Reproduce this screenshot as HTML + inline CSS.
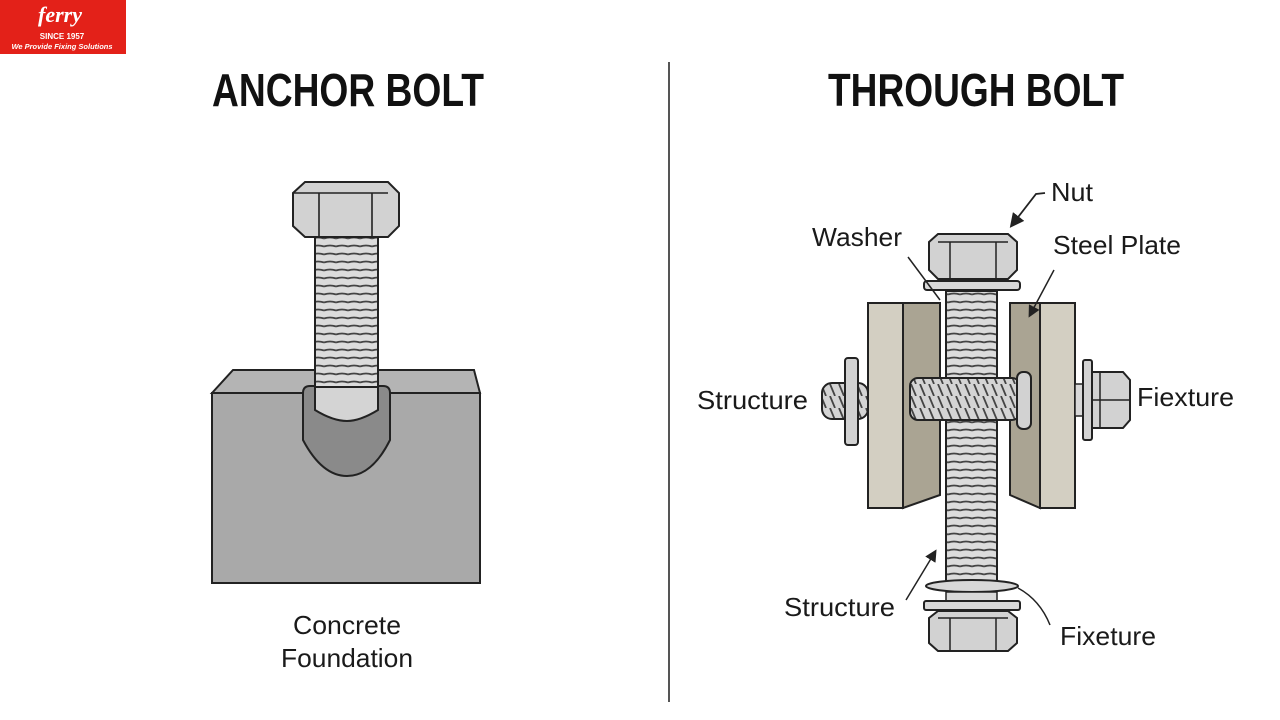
<!DOCTYPE html>
<html><head><meta charset="utf-8"><style>
html,body{margin:0;padding:0;background:#fff}
svg{display:block}
text{font-family:"Liberation Sans",sans-serif;fill:#1a1a1a}
</style></head><body>
<svg width="1280" height="720" viewBox="0 0 1280 720" xmlns="http://www.w3.org/2000/svg">
<defs>
<pattern id="thr" width="12" height="8" patternUnits="userSpaceOnUse">
<rect width="12" height="8" fill="#dcdcdc"/><path d="M0 6.5 Q6 4.5 12 6.5" stroke="#444" stroke-width="1.8" fill="none"/>
</pattern>
<pattern id="thrh" width="9" height="12" patternUnits="userSpaceOnUse">
<rect width="9" height="12" fill="#d4d4d4"/><path d="M2 0 L7 12" stroke="#444" stroke-width="1.8"/>
</pattern>
<marker id="ar" markerWidth="8" markerHeight="8" refX="6" refY="4" orient="auto"><path d="M0 0 L8 4 L0 8 z" fill="#222"/></marker>
</defs>
<!-- logo -->
<rect x="0" y="0" width="126" height="54" fill="#e32119"/>
<text x="60" y="22" font-style="italic" font-weight="bold" font-size="22" style="fill:#fff;font-family:'Liberation Serif',serif" text-anchor="middle">ferry</text>
<text x="62" y="39" font-size="8" font-weight="bold" style="fill:#fff" text-anchor="middle">SINCE 1957</text>
<text x="62" y="49" font-size="7.5" font-weight="bold" font-style="italic" style="fill:#fff" text-anchor="middle">We Provide Fixing Solutions</text>
<!-- titles -->
<text x="212" y="106" font-size="46" font-weight="bold" textLength="272" lengthAdjust="spacingAndGlyphs" style="fill:#111">ANCHOR BOLT</text>
<text x="828" y="106" font-size="46" font-weight="bold" textLength="296" lengthAdjust="spacingAndGlyphs" style="fill:#111">THROUGH BOLT</text>
<line x1="669" y1="62" x2="669" y2="702" stroke="#555" stroke-width="2"/>
<!-- anchor block -->
<polygon points="212,393 233,370 474,370 480,393" fill="#b4b4b4" stroke="#222" stroke-width="2"/>
<rect x="212" y="393" width="268" height="190" fill="#a9a9a9" stroke="#222" stroke-width="2"/>
<path d="M303 393 Q303 386 310 386 L383 386 Q390 386 390 393 L390 440 Q372 476 347 476 Q322 476 303 440 Z" fill="#8a8a8a" stroke="#222" stroke-width="2"/>
<rect x="315" y="237" width="63" height="150" fill="url(#thr)" stroke="#222" stroke-width="2"/>
<path d="M315 387 L378 387 L378 410 Q360 421 347 421 Q333 421 315 410 Z" fill="#d4d4d4" stroke="#222" stroke-width="2"/>
<path d="M293 193 L305 182 L388 182 L399 193 L399 226 L388 237 L305 237 L293 226 Z" fill="#d2d2d2" stroke="#222" stroke-width="2"/>
<path d="M305 193 L388 193 M319 193 L319 237 M372 193 L372 237 M293 193 L305 193" stroke="#222" stroke-width="1.6" fill="none"/>
<text x="347" y="634" font-size="26" text-anchor="middle" textLength="108" lengthAdjust="spacingAndGlyphs">Concrete</text>
<text x="347" y="667" font-size="26" text-anchor="middle" textLength="132" lengthAdjust="spacingAndGlyphs">Foundation</text>
<!-- through bolt plates -->
<rect x="868" y="303" width="35" height="205" fill="#d3cfc2" stroke="#222" stroke-width="2"/>
<polygon points="903,303 940,303 940,495 903,508" fill="#aaa493" stroke="#222" stroke-width="2"/>
<polygon points="1010,303 1040,303 1040,508 1010,495" fill="#aaa493" stroke="#222" stroke-width="2"/>
<rect x="1040" y="303" width="35" height="205" fill="#d3cfc2" stroke="#222" stroke-width="2"/>
<!-- vertical shank -->
<rect x="946" y="291" width="51" height="292" fill="url(#thr)" stroke="#222" stroke-width="2"/>
<!-- horizontal bolt -->
<rect x="822" y="383" width="46" height="36" rx="10" fill="url(#thrh)" stroke="#222" stroke-width="2"/>
<rect x="845" y="358" width="13" height="87" rx="3" fill="#d2d2d2" stroke="#222" stroke-width="2"/>
<rect x="910" y="378" width="110" height="42" rx="8" fill="url(#thrh)" stroke="#222" stroke-width="2"/>
<rect x="1017" y="372" width="14" height="57" rx="6" fill="#d2d2d2" stroke="#222" stroke-width="2"/>
<rect x="1075" y="384" width="12" height="32" fill="#d8d8d8" stroke="#222" stroke-width="1.5"/>
<rect x="1083" y="360" width="9" height="80" rx="2" fill="#d2d2d2" stroke="#222" stroke-width="2"/>
<path d="M1092 372 L1123 372 L1130 380 L1130 420 L1123 428 L1092 428 Z" fill="#d2d2d2" stroke="#222" stroke-width="2"/>
<path d="M1092 400 L1130 400 M1100 372 L1100 428" stroke="#222" stroke-width="1.5"/>
<!-- top nut & washer -->
<path d="M929 242 L938 234 L1008 234 L1017 242 L1017 270 L1008 279 L938 279 L929 270 Z" fill="#d2d2d2" stroke="#222" stroke-width="2"/>
<path d="M938 242 L1008 242 M950 242 L950 279 M996 242 L996 279" stroke="#222" stroke-width="1.5" fill="none"/>
<rect x="924" y="281" width="96" height="9" rx="3" fill="#d8d8d8" stroke="#222" stroke-width="2"/>
<!-- bottom washers & nut -->
<ellipse cx="972" cy="586" rx="46" ry="6" fill="#d8d8d8" stroke="#222" stroke-width="2"/>
<rect x="946" y="592" width="51" height="10" fill="#d8d8d8" stroke="#222" stroke-width="1.5"/>
<rect x="924" y="601" width="96" height="9" rx="2" fill="#d8d8d8" stroke="#222" stroke-width="2"/>
<path d="M929 618 L938 611 L1008 611 L1017 618 L1017 643 L1008 651 L938 651 L929 643 Z" fill="#d2d2d2" stroke="#222" stroke-width="2"/>
<path d="M950 618 L950 651 M996 618 L996 651 M938 618 L1008 618" stroke="#222" stroke-width="1.5" fill="none"/>
<!-- labels & leaders -->
<text x="1051" y="201" font-size="26" textLength="42" lengthAdjust="spacingAndGlyphs">Nut</text>
<path d="M1045 193 L1036 194 L1012 225" stroke="#222" stroke-width="1.8" fill="none" marker-end="url(#ar)"/>
<text x="812" y="246" font-size="26" textLength="90" lengthAdjust="spacingAndGlyphs">Washer</text>
<path d="M908 257 L940 300" stroke="#222" stroke-width="1.5" fill="none"/>
<text x="1053" y="254" font-size="26" textLength="128" lengthAdjust="spacingAndGlyphs">Steel Plate</text>
<path d="M1054 270 L1030 315" stroke="#222" stroke-width="1.5" fill="none" marker-end="url(#ar)"/>
<text x="697" y="409" font-size="26" textLength="111" lengthAdjust="spacingAndGlyphs">Structure</text>
<text x="1137" y="406" font-size="26" textLength="97" lengthAdjust="spacingAndGlyphs">Fiexture</text>
<text x="784" y="616" font-size="26" textLength="111" lengthAdjust="spacingAndGlyphs">Structure</text>
<path d="M906 600 L935 552" stroke="#222" stroke-width="1.5" fill="none" marker-end="url(#ar)"/>
<text x="1060" y="645" font-size="26" textLength="96" lengthAdjust="spacingAndGlyphs">Fixeture</text>
<path d="M1018 588 Q1040 600 1050 625" stroke="#222" stroke-width="1.5" fill="none"/>
</svg>
</body></html>
